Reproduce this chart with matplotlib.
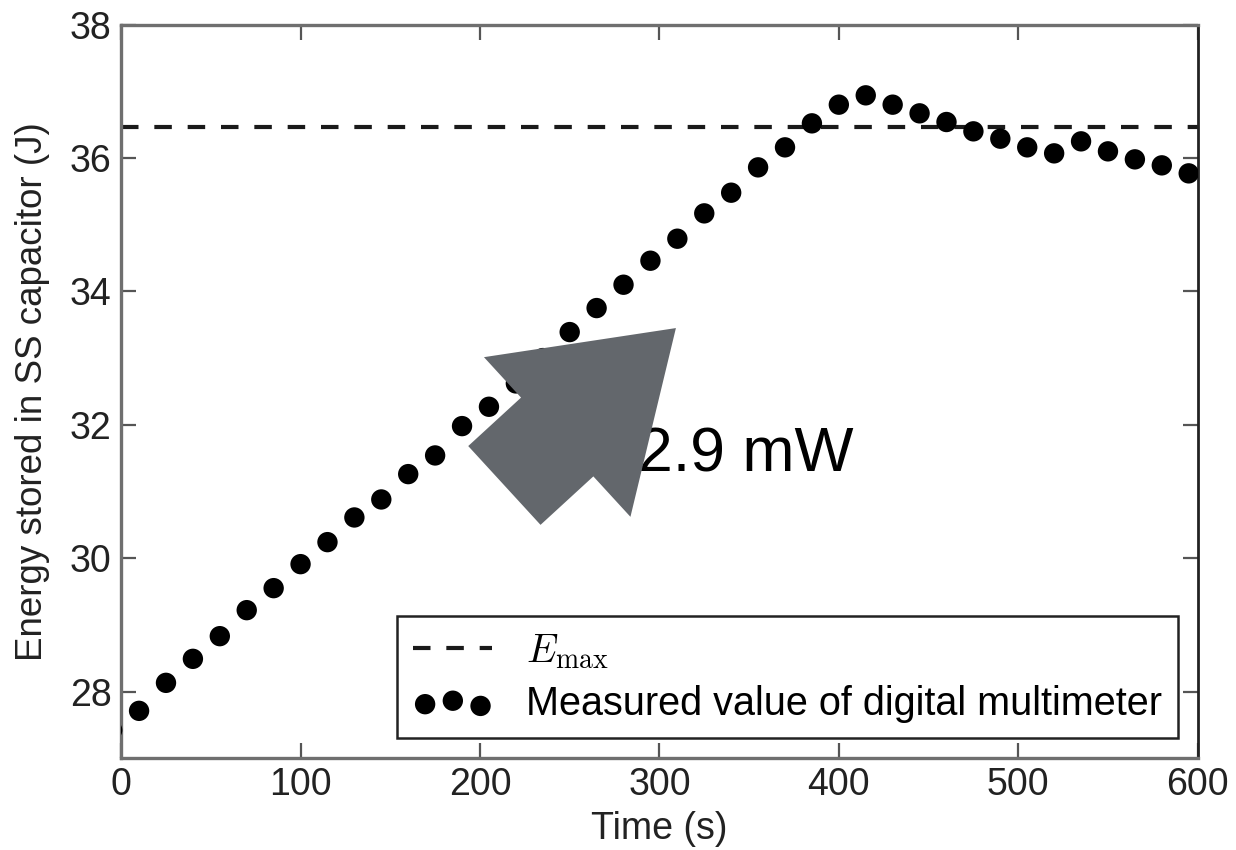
import matplotlib
matplotlib.use("Agg")
import matplotlib.pyplot as plt

plt.rcParams['font.family'] = ['Liberation Sans', 'DejaVu Sans']
plt.rcParams['mathtext.fontset'] = 'cm'

# measured energy in the SS capacitor, sampled every 15 s
time_s = [-5, 10, 25, 40, 55, 70, 85, 100, 115, 130, 145, 160, 175, 190, 205,
          220, 235, 250, 265, 280, 295, 310, 325, 340, 355, 370, 385, 400,
          415, 430, 445, 460, 475, 490, 505, 520, 535, 550, 565, 580, 595]
energy_j = [27.42, 27.71, 28.13, 28.49, 28.83, 29.22, 29.55, 29.91, 30.24,
            30.61, 30.88, 31.26, 31.54, 31.98, 32.27, 32.62, 33.00, 33.39,
            33.75, 34.10, 34.46, 34.79, 35.17, 35.48, 35.86, 36.16, 36.52,
            36.80, 36.94, 36.80, 36.67, 36.54, 36.40, 36.29, 36.16, 36.07,
            36.25, 36.10, 35.98, 35.89, 35.77]
e_max = 36.46

x_ticks = [0, 100, 200, 300, 400, 500, 600]
y_ticks = [28, 30, 32, 34, 36, 38]

# annotation arrow (tail -> tip) and its label, in data units
arrow_tail = (213.6, 31.09)
arrow_tip = (309.2, 33.45)
label_pos = (288, 31.30)

fig = plt.figure(figsize=(12.36, 8.5), dpi=100)
ax = fig.add_axes([0.098, 0.108, 0.871, 0.863])

ax.axhline(e_max, color='#1a1a1a', lw=3, ls=(0, (4.2, 3.8)), label=r'$E_{\max}$', zorder=2)
ax.scatter(time_s, energy_j, s=215, color='black', edgecolors='none',
           label='Measured value of digital multimeter', zorder=3)

ax.set_xlim(0, 600)
ax.set_ylim(27, 38)
ax.set_xticks(x_ticks)
ax.set_yticks(y_ticks)

ax.tick_params(axis='both', which='both', direction='in', top=True, right=True,
               length=11, width=1.6, colors='#555555', labelcolor='#222222',
               labelsize=27)
ax.tick_params(axis='y', pad=7)
ax.tick_params(axis='x', pad=6)
for side in ['left', 'top', 'bottom']:
    ax.spines[side].set_color('#6f6f6f')
    ax.spines[side].set_linewidth(2.4)
ax.spines['right'].set_color('#222222')
ax.spines['right'].set_linewidth(2)

ax.set_xlabel('Time (s)', fontsize=27, color='#222222', labelpad=6)
ax.set_ylabel('Energy stored in SS capacitor (J)', fontsize=26.5, color='#222222', labelpad=14)

ax.text(label_pos[0], label_pos[1], '2.9 mW', fontsize=45, color='black',
        ha='left', va='baseline', zorder=4)
ax.annotate('', xy=arrow_tip, xytext=arrow_tail,
            arrowprops=dict(width=77, headwidth=156, headlength=116, shrink=0,
                            facecolor='#63676c', edgecolor='none'),
            zorder=5)

leg = ax.legend(loc='lower right', fontsize=28.5, scatterpoints=3,
                scatteryoffsets=[0.375, 0.5, 0.3125], fancybox=False,
                framealpha=1, edgecolor='#222222', borderaxespad=0.5,
                handlelength=2.0, handletextpad=0.85, labelspacing=0.35)
leg.get_frame().set_linewidth(1.8)
leg.get_lines()[0].set_linestyle((8, (4.2, 3.8)))

fig.savefig('out.png', dpi=100)
